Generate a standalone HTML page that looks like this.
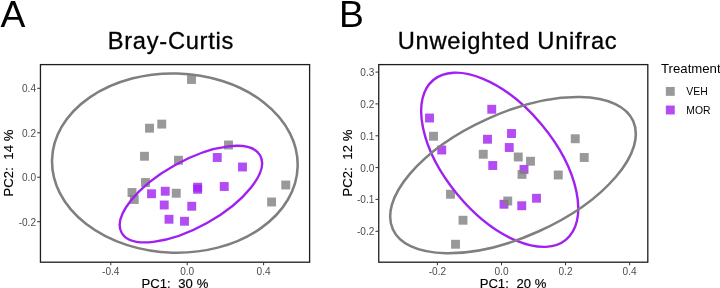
<!DOCTYPE html>
<html><head><meta charset="utf-8"><title>PCoA</title>
<style>html,body{margin:0;padding:0;background:#fff;}svg{display:block;}</style></head>
<body>
<svg width="720" height="288" viewBox="0 0 720 288" font-family="'Liberation Sans', Arial, sans-serif">
<rect width="720" height="288" fill="#fff"/>
<clipPath id="ca"><rect x="40.45" y="64.6" width="269.15000000000003" height="197.6"/></clipPath>
<rect x="40.45" y="64.6" width="269.15000000000003" height="197.6" fill="#fff" stroke="#1e1e1e" stroke-width="1.3"/>
<g clip-path="url(#ca)">
<rect x="212.80" y="153.05" width="8.9" height="8.9" fill="#a020f0" fill-opacity="0.8"/><rect x="238.05" y="162.55" width="8.9" height="8.9" fill="#a020f0" fill-opacity="0.8"/><rect x="193.20" y="182.75" width="8.9" height="8.9" fill="#a020f0" fill-opacity="0.8"/><rect x="193.20" y="184.85" width="8.9" height="8.9" fill="#a020f0" fill-opacity="0.8"/><rect x="219.80" y="182.05" width="8.9" height="8.9" fill="#a020f0" fill-opacity="0.8"/><rect x="147.05" y="189.30" width="8.9" height="8.9" fill="#a020f0" fill-opacity="0.8"/><rect x="160.80" y="186.80" width="8.9" height="8.9" fill="#a020f0" fill-opacity="0.8"/><rect x="159.80" y="200.55" width="8.9" height="8.9" fill="#a020f0" fill-opacity="0.8"/><rect x="187.30" y="201.80" width="8.9" height="8.9" fill="#a020f0" fill-opacity="0.8"/><rect x="164.55" y="214.80" width="8.9" height="8.9" fill="#a020f0" fill-opacity="0.8"/><rect x="180.05" y="216.80" width="8.9" height="8.9" fill="#a020f0" fill-opacity="0.8"/>
<rect x="187.05" y="75.05" width="8.9" height="8.9" fill="#7f7f7f" fill-opacity="0.8"/><rect x="157.30" y="119.65" width="8.9" height="8.9" fill="#7f7f7f" fill-opacity="0.8"/><rect x="145.05" y="123.75" width="8.9" height="8.9" fill="#7f7f7f" fill-opacity="0.8"/><rect x="140.05" y="151.80" width="8.9" height="8.9" fill="#7f7f7f" fill-opacity="0.8"/><rect x="174.05" y="155.80" width="8.9" height="8.9" fill="#7f7f7f" fill-opacity="0.8"/><rect x="224.05" y="140.55" width="8.9" height="8.9" fill="#7f7f7f" fill-opacity="0.8"/><rect x="141.05" y="178.05" width="8.9" height="8.9" fill="#7f7f7f" fill-opacity="0.8"/><rect x="127.55" y="188.05" width="8.9" height="8.9" fill="#7f7f7f" fill-opacity="0.8"/><rect x="129.80" y="195.05" width="8.9" height="8.9" fill="#7f7f7f" fill-opacity="0.8"/><rect x="171.80" y="188.80" width="8.9" height="8.9" fill="#7f7f7f" fill-opacity="0.8"/><rect x="267.15" y="197.55" width="8.9" height="8.9" fill="#7f7f7f" fill-opacity="0.8"/><rect x="281.30" y="180.55" width="8.9" height="8.9" fill="#7f7f7f" fill-opacity="0.8"/>
<ellipse cx="190.90" cy="194.10" rx="79.30" ry="33.10" transform="rotate(-29.14 190.90 194.10)" fill="none" stroke="#a020f0" stroke-width="2.4"/>
<ellipse cx="174.85" cy="163.10" rx="122.85" ry="89.60" transform="rotate(1.60 174.85 163.10)" fill="none" stroke="#7f7f7f" stroke-width="2.55"/>
</g>
<line x1="37.150000000000006" x2="40.45" y1="88.3" y2="88.3" stroke="#333" stroke-width="1"/>
<text x="36.050000000000004" y="92.2" font-size="10.1" fill="#4d4d4d" text-anchor="end">0.4</text>
<line x1="37.150000000000006" x2="40.45" y1="132.8" y2="132.8" stroke="#333" stroke-width="1"/>
<text x="36.050000000000004" y="136.70000000000002" font-size="10.1" fill="#4d4d4d" text-anchor="end">0.2</text>
<line x1="37.150000000000006" x2="40.45" y1="177.2" y2="177.2" stroke="#333" stroke-width="1"/>
<text x="36.050000000000004" y="181.1" font-size="10.1" fill="#4d4d4d" text-anchor="end">0.0</text>
<line x1="37.150000000000006" x2="40.45" y1="221.7" y2="221.7" stroke="#333" stroke-width="1"/>
<text x="36.050000000000004" y="225.6" font-size="10.1" fill="#4d4d4d" text-anchor="end">-0.2</text>
<line x1="110.8" x2="110.8" y1="262.2" y2="265.3" stroke="#333" stroke-width="1"/>
<text x="110.8" y="275.0" font-size="10.1" fill="#4d4d4d" text-anchor="middle">-0.4</text>
<line x1="187.2" x2="187.2" y1="262.2" y2="265.3" stroke="#333" stroke-width="1"/>
<text x="187.2" y="275.0" font-size="10.1" fill="#4d4d4d" text-anchor="middle">0.0</text>
<line x1="263.6" x2="263.6" y1="262.2" y2="265.3" stroke="#333" stroke-width="1"/>
<text x="263.6" y="275.0" font-size="10.1" fill="#4d4d4d" text-anchor="middle">0.4</text>
<text x="174.9" y="287.8" font-size="13.1" word-spacing="0.2" stroke="#000" stroke-width="0.15" fill="#000" text-anchor="middle" xml:space="preserve" style="white-space:pre">PC1:  30 %</text>
<text transform="translate(13.3 163) rotate(-90)" font-size="13.1" word-spacing="0.2" stroke="#000" stroke-width="0.15" fill="#000" text-anchor="middle" xml:space="preserve" style="white-space:pre">PC2:  14 %</text>
<text x="170.9" y="48.5" stroke="#000" stroke-width="0.3" font-size="23.7" letter-spacing="0.72" fill="#000" text-anchor="middle">Bray-Curtis</text>
<text x="0.5" y="27.1" font-size="37.3" fill="#000">A</text>
<clipPath id="cb"><rect x="378.75" y="64.6" width="269.04999999999995" height="197.6"/></clipPath>
<rect x="378.75" y="64.6" width="269.04999999999995" height="197.6" fill="#fff" stroke="#1e1e1e" stroke-width="1.3"/>
<g clip-path="url(#cb)">
<rect x="425.05" y="113.55" width="8.9" height="8.9" fill="#a020f0" fill-opacity="0.8"/><rect x="487.30" y="104.80" width="8.9" height="8.9" fill="#a020f0" fill-opacity="0.8"/><rect x="437.30" y="145.55" width="8.9" height="8.9" fill="#a020f0" fill-opacity="0.8"/><rect x="483.05" y="134.80" width="8.9" height="8.9" fill="#a020f0" fill-opacity="0.8"/><rect x="507.05" y="129.05" width="8.9" height="8.9" fill="#a020f0" fill-opacity="0.8"/><rect x="504.80" y="143.05" width="8.9" height="8.9" fill="#a020f0" fill-opacity="0.8"/><rect x="488.30" y="161.05" width="8.9" height="8.9" fill="#a020f0" fill-opacity="0.8"/><rect x="519.55" y="164.95" width="8.9" height="8.9" fill="#a020f0" fill-opacity="0.8"/><rect x="499.55" y="199.80" width="8.9" height="8.9" fill="#a020f0" fill-opacity="0.8"/><rect x="517.30" y="201.30" width="8.9" height="8.9" fill="#a020f0" fill-opacity="0.8"/><rect x="532.05" y="193.80" width="8.9" height="8.9" fill="#a020f0" fill-opacity="0.8"/>
<rect x="429.05" y="131.80" width="8.9" height="8.9" fill="#7f7f7f" fill-opacity="0.8"/><rect x="478.80" y="149.80" width="8.9" height="8.9" fill="#7f7f7f" fill-opacity="0.8"/><rect x="513.80" y="152.55" width="8.9" height="8.9" fill="#7f7f7f" fill-opacity="0.8"/><rect x="526.05" y="156.80" width="8.9" height="8.9" fill="#7f7f7f" fill-opacity="0.8"/><rect x="517.55" y="169.95" width="8.9" height="8.9" fill="#7f7f7f" fill-opacity="0.8"/><rect x="446.05" y="189.80" width="8.9" height="8.9" fill="#7f7f7f" fill-opacity="0.8"/><rect x="503.30" y="196.55" width="8.9" height="8.9" fill="#7f7f7f" fill-opacity="0.8"/><rect x="458.55" y="215.80" width="8.9" height="8.9" fill="#7f7f7f" fill-opacity="0.8"/><rect x="451.05" y="239.80" width="8.9" height="8.9" fill="#7f7f7f" fill-opacity="0.8"/><rect x="570.80" y="134.30" width="8.9" height="8.9" fill="#7f7f7f" fill-opacity="0.8"/><rect x="579.80" y="153.05" width="8.9" height="8.9" fill="#7f7f7f" fill-opacity="0.8"/><rect x="553.80" y="170.55" width="8.9" height="8.9" fill="#7f7f7f" fill-opacity="0.8"/>
<ellipse cx="499.71" cy="159.77" rx="103.79" ry="54.71" transform="rotate(50.24 499.71 159.77)" fill="none" stroke="#a020f0" stroke-width="2.4"/>
<ellipse cx="513.00" cy="175.14" rx="131.80" ry="61.80" transform="rotate(-24.24 513.00 175.14)" fill="none" stroke="#7f7f7f" stroke-width="2.55"/>
</g>
<line x1="375.45" x2="378.75" y1="72.1" y2="72.1" stroke="#333" stroke-width="1"/>
<text x="374.35" y="76.0" font-size="10.1" fill="#4d4d4d" text-anchor="end">0.3</text>
<line x1="375.45" x2="378.75" y1="103.9" y2="103.9" stroke="#333" stroke-width="1"/>
<text x="374.35" y="107.80000000000001" font-size="10.1" fill="#4d4d4d" text-anchor="end">0.2</text>
<line x1="375.45" x2="378.75" y1="135.8" y2="135.8" stroke="#333" stroke-width="1"/>
<text x="374.35" y="139.70000000000002" font-size="10.1" fill="#4d4d4d" text-anchor="end">0.1</text>
<line x1="375.45" x2="378.75" y1="167.6" y2="167.6" stroke="#333" stroke-width="1"/>
<text x="374.35" y="171.5" font-size="10.1" fill="#4d4d4d" text-anchor="end">0.0</text>
<line x1="375.45" x2="378.75" y1="199.4" y2="199.4" stroke="#333" stroke-width="1"/>
<text x="374.35" y="203.3" font-size="10.1" fill="#4d4d4d" text-anchor="end">-0.1</text>
<line x1="375.45" x2="378.75" y1="231.3" y2="231.3" stroke="#333" stroke-width="1"/>
<text x="374.35" y="235.20000000000002" font-size="10.1" fill="#4d4d4d" text-anchor="end">-0.2</text>
<line x1="437.4" x2="437.4" y1="262.2" y2="265.3" stroke="#333" stroke-width="1"/>
<text x="437.4" y="275.0" font-size="10.1" fill="#4d4d4d" text-anchor="middle">-0.2</text>
<line x1="501.5" x2="501.5" y1="262.2" y2="265.3" stroke="#333" stroke-width="1"/>
<text x="501.5" y="275.0" font-size="10.1" fill="#4d4d4d" text-anchor="middle">0.0</text>
<line x1="565.5" x2="565.5" y1="262.2" y2="265.3" stroke="#333" stroke-width="1"/>
<text x="565.5" y="275.0" font-size="10.1" fill="#4d4d4d" text-anchor="middle">0.2</text>
<line x1="629.6" x2="629.6" y1="262.2" y2="265.3" stroke="#333" stroke-width="1"/>
<text x="629.6" y="275.0" font-size="10.1" fill="#4d4d4d" text-anchor="middle">0.4</text>
<text x="513.1" y="287.8" font-size="13.1" word-spacing="0.2" stroke="#000" stroke-width="0.15" fill="#000" text-anchor="middle" xml:space="preserve" style="white-space:pre">PC1:  20 %</text>
<text transform="translate(351.8 163) rotate(-90)" font-size="13.1" word-spacing="0.2" stroke="#000" stroke-width="0.15" fill="#000" text-anchor="middle" xml:space="preserve" style="white-space:pre">PC2:  12 %</text>
<text x="507.6" y="48.5" stroke="#000" stroke-width="0.3" font-size="23.7" letter-spacing="0.72" fill="#000" text-anchor="middle">Unweighted Unifrac</text>
<text x="339" y="27.0" font-size="37.3" fill="#000">B</text>
<text x="661" y="73.4" font-size="13.2" fill="#000">Treatment</text>
<rect x="665.8499999999999" y="86.95" width="8.9" height="8.9" fill="#7f7f7f" fill-opacity="0.8"/>
<rect x="665.8499999999999" y="105.55" width="8.9" height="8.9" fill="#a020f0" fill-opacity="0.8"/>
<text x="686.3" y="95.3" font-size="10.4" fill="#000">VEH</text>
<text x="686.3" y="113.9" font-size="10.4" fill="#000">MOR</text>
</svg>
</body></html>
